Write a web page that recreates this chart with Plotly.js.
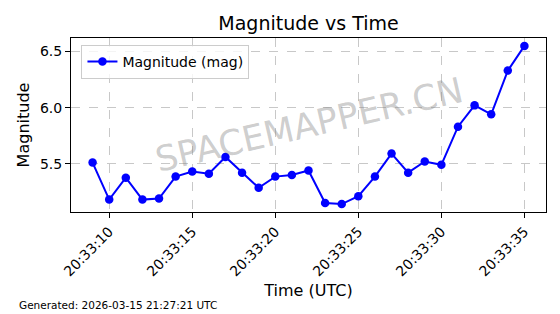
<!DOCTYPE html>
<html>
<head>
<meta charset="utf-8">
<script src="https://cdn.plot.ly/plotly-3.0.1.min.js"></script>
<style>html,body{margin:0;padding:0;background:#fff;}#chart{width:560px;height:314px;}</style>
</head>
<body>
<div id="chart"></div>
<script>
var obsDate = '2026-03-15';
var times = ['20:33:09','20:33:10','20:33:11','20:33:12','20:33:13','20:33:14','20:33:15','20:33:16','20:33:17','20:33:18','20:33:19','20:33:20','20:33:21','20:33:22','20:33:23','20:33:24','20:33:25','20:33:26','20:33:27','20:33:28','20:33:29','20:33:30','20:33:31','20:33:32','20:33:33','20:33:34','20:33:35'];
var magnitudes = [5.51,5.18,5.375,5.18,5.19,5.385,5.43,5.41,5.56,5.42,5.285,5.385,5.40,5.44,5.15,5.14,5.21,5.385,5.59,5.42,5.52,5.49,5.83,6.02,5.94,6.33,6.55];
var yTickVals = [5.5, 6.0, 6.5];
var yTickText = ['5.5', '6.0', '6.5'];
var xRange = ['2026-03-15 20:33:07.7', '2026-03-15 20:33:36.3'];
var yRange = [5.0695, 6.6205];
var seriesName = 'Magnitude (mag)';
var generatedText = 'Generated: 2026-03-15 21:27:21 UTC';
var watermark = 'SPACEMAPPER.CN';

var x = times.map(function(t){ return obsDate + ' ' + t; });
var font = 'DejaVu Sans, sans-serif';

var trace = {
  x: x, y: magnitudes, type: 'scatter', mode: 'lines+markers', name: seriesName,
  line: {color: '#0000ff', width: 2},
  marker: {color: '#0000ff', size: 8.5}
};

var layout = {
  width: 560, height: 314,
  margin: {l: 71, r: 14, t: 38, b: 102, pad: 0},
  paper_bgcolor: '#ffffff', plot_bgcolor: '#ffffff',
  font: {family: font, color: '#000000', size: 14},
  showlegend: true,
  title: {text: 'Magnitude vs Time', font: {family: font, size: 19, color: '#000'}, x: 0.5, xref: 'paper', xanchor: 'center', y: 1 - 23/314, yref: 'container', yanchor: 'middle'},
  xaxis: {
    type: 'date', range: xRange, tickformat: '%H:%M:%S', dtick: 5000, tick0: '2026-03-15 20:33:10',
    tickangle: -45, ticks: 'outside', ticklen: 5, tickcolor: '#000', tickwidth: 1,
    tickfont: {family: font, size: 14, color: '#000'},
    showline: true, linecolor: '#000', linewidth: 1, mirror: true,
    showgrid: true, gridcolor: 'rgba(176,176,176,0.7)', griddash: 'dash', gridwidth: 1,
    zeroline: false,
    title: {text: 'Time (UTC)', font: {family: font, size: 16, color: '#000'}, standoff: 6}
  },
  yaxis: {
    range: yRange, tickvals: yTickVals, ticktext: yTickText,
    ticks: 'outside', ticklen: 5, tickcolor: '#000', tickwidth: 1,
    tickfont: {family: font, size: 14, color: '#000'},
    showline: true, linecolor: '#000', linewidth: 1, mirror: true,
    showgrid: true, gridcolor: 'rgba(176,176,176,0.7)', griddash: 'dash', gridwidth: 1,
    zeroline: false,
    title: {text: 'Magnitude', font: {family: font, size: 16, color: '#000'}, standoff: 6}
  },
  legend: {
    x: 0.022, y: 0.96, xanchor: 'left', yanchor: 'top',
    bgcolor: 'rgba(255,255,255,0.8)', bordercolor: '#cccccc', borderwidth: 1,
    font: {family: font, size: 14, color: '#000'}
  },
  annotations: [
    {text: watermark, xref: 'paper', yref: 'paper', x: 0.5, y: 0.5, xanchor: 'center', yanchor: 'middle',
     showarrow: false, textangle: -13, font: {family: font, size: 35, color: 'rgba(128,128,128,0.4)'}},
    {text: generatedText, xref: 'paper', yref: 'paper', x: (17 - 71)/475, y: -(305 - 212)/174,
     xanchor: 'left', yanchor: 'middle', showarrow: false, font: {family: font, size: 10.5, color: '#000'}}
  ]
};

Plotly.newPlot('chart', [trace], layout, {displayModeBar: false, staticPlot: true});
</script>
</body>
</html>
